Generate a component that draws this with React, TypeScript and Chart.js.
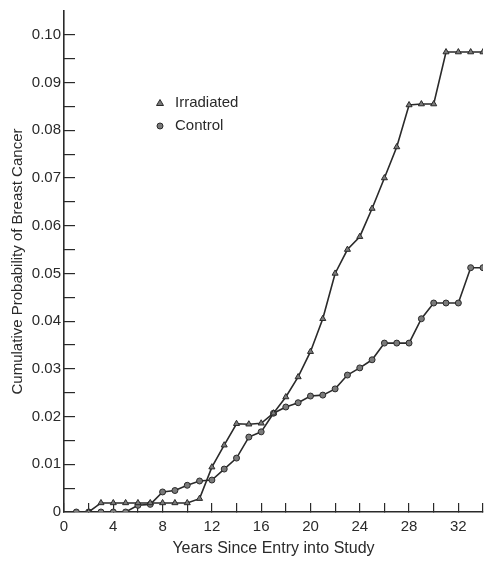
import React, { useEffect, useRef } from 'react';
import { Chart, registerables } from 'chart.js';

Chart.register(...registerables);

// ---- data ----
const years = [1, 2, 3, 4, 5, 6, 7, 8, 9, 10, 11, 12, 13, 14, 15, 16, 17, 18, 19, 20, 21, 22, 23, 24, 25, 26, 27, 28, 29, 30, 31, 32, 33, 34];
const irradiated: (number | null)[] = [
  null, 0, 0.0019, 0.0019, 0.0019, 0.0019, 0.0019, 0.0019, 0.0019, 0.0019,
  0.0028, 0.0094, 0.014, 0.0185, 0.0184, 0.0186, 0.0207, 0.0241, 0.0283, 0.0336,
  0.0405, 0.05, 0.055, 0.0577, 0.0636, 0.07, 0.0765, 0.0853, 0.0855, 0.0855,
  0.0964, 0.0964, 0.0964, 0.0964,
];
const control: (number | null)[] = [
  0, 0, 0, 0, 0, 0.0014, 0.0016, 0.0042, 0.0045, 0.0056,
  0.0065, 0.0067, 0.009, 0.0113, 0.0157, 0.0168, 0.0207, 0.022, 0.0229, 0.0243,
  0.0245, 0.0258, 0.0287, 0.0302, 0.0319, 0.0354, 0.0354, 0.0354, 0.0405, 0.0438,
  0.0438, 0.0438, 0.0512, 0.0512,
];
const seriesLabels = ['Irradiated', 'Control'];
const xLabelValues = [0, 4, 8, 12, 16, 20, 24, 28, 32];
const yTickValues = [0, 0.01, 0.02, 0.03, 0.04, 0.05, 0.06, 0.07, 0.08, 0.09, 0.1];
const yTickLabels = ['0', '0.01', '0.02', '0.03', '0.04', '0.05', '0.06', '0.07', '0.08', '0.09', '0.10'];
const xTitle = 'Years Since Entry into Study';
const yTitle = 'Cumulative Probability of Breast Cancer';

const FONT = '"Liberation Sans", Arial, sans-serif';
const INK = '#2a2a2a';
const MARK_FILL = '#7a7a7a';

const legendPlugin = {
  id: 'innerLegend',
  afterDraw(chart: any) {
    const { ctx, chartArea } = chart;
    const rows = [
      { label: seriesLabels[0], style: 'triangle', dy: 92 },
      { label: seriesLabels[1], style: 'circle', dy: 115 },
    ];
    ctx.save();
    ctx.font = `15px ${FONT}`;
    ctx.textBaseline = 'middle';
    ctx.textAlign = 'left';
    rows.forEach((r) => {
      const mx = chartArea.left + 96;
      const my = chartArea.top + r.dy;
      ctx.fillStyle = MARK_FILL;
      ctx.strokeStyle = INK;
      ctx.lineWidth = 1;
      ctx.beginPath();
      if (r.style === 'triangle') {
        ctx.moveTo(mx, my - 3.5);
        ctx.lineTo(mx + 3.5, my + 2.5);
        ctx.lineTo(mx - 3.5, my + 2.5);
        ctx.closePath();
      } else {
        ctx.arc(mx, my, 3, 0, Math.PI * 2);
      }
      ctx.fill();
      ctx.stroke();
      ctx.fillStyle = INK;
      ctx.fillText(r.label, chartArea.left + 111, my);
    });
    ctx.restore();
  },
};

export default function App() {
  const ref = useRef<HTMLCanvasElement | null>(null);
  useEffect(() => {
    if (!ref.current) return;
    const chart = new Chart(ref.current, {
      type: 'line',
      data: {
        datasets: [
          {
            label: seriesLabels[0],
            data: years.map((x, i) => ({ x, y: irradiated[i] })),
            borderColor: INK,
            borderWidth: 1.6,
            pointStyle: 'triangle',
            pointRadius: 3.5,
            pointBackgroundColor: MARK_FILL,
            pointBorderColor: INK,
            pointBorderWidth: 1,
            spanGaps: false,
            tension: 0,
          },
          {
            label: seriesLabels[1],
            data: years.map((x, i) => ({ x, y: control[i] })),
            borderColor: INK,
            borderWidth: 1.6,
            pointStyle: 'circle',
            pointRadius: 3,
            pointBackgroundColor: MARK_FILL,
            pointBorderColor: INK,
            pointBorderWidth: 1,
            tension: 0,
          },
        ],
      },
      options: {
        animation: false,
        responsive: false,
        maintainAspectRatio: false,
        layout: { padding: { top: 11, right: 1, left: 0, bottom: 0 } },
        plugins: {
          legend: { display: false },
          tooltip: { enabled: false },
        },
        scales: {
          x: {
            type: 'linear',
            min: 0,
            max: 34,
            afterFit: (s: any) => {
              s.height = 50;
              s.paddingLeft = 0;
              s.paddingRight = 0;
            },
            ticks: {
              stepSize: 2,
              autoSkip: false,
              maxRotation: 0,
              padding: 15,
              color: INK,
              font: { family: FONT, size: 15 },
              callback: (v: any) => (xLabelValues.includes(Number(v)) ? String(v) : ''),
            },
            grid: { drawOnChartArea: false, drawTicks: true, tickLength: -9, color: INK, lineWidth: 1.2 },
            border: { display: true, color: INK, width: 1.6 },
            title: {
              display: true,
              text: xTitle,
              color: INK,
              font: { family: FONT, size: 16 },
              padding: { top: 0, bottom: 4 },
            },
          },
          y: {
            type: 'linear',
            min: 0,
            max: 0.105,
            afterFit: (s: any) => {
              s.width = 64;
              s.paddingTop = 0;
              s.paddingBottom = 0;
            },
            afterBuildTicks: (s: any) => {
              s.ticks = s.ticks.filter((t: any) => t.value <= 0.1001);
            },
            ticks: {
              stepSize: 0.005,
              autoSkip: false,
              padding: 14,
              color: INK,
              font: { family: FONT, size: 15 },
              callback: (v: any) => {
                const idx = yTickValues.findIndex((t) => Math.abs(t - Number(v)) < 1e-6);
                return idx >= 0 ? yTickLabels[idx] : '';
              },
            },
            grid: { drawOnChartArea: false, drawTicks: true, tickLength: -11, color: INK, lineWidth: 1.2 },
            border: { display: true, color: INK, width: 1.6 },
            title: {
              display: true,
              text: yTitle,
              color: INK,
              font: { family: FONT, size: 15 },
              padding: { top: 9, bottom: 0 },
            },
          },
        },
      },
      plugins: [legendPlugin],
    });
    return () => chart.destroy();
  }, []);
  return (
    <div style={{ position: 'absolute', left: 0, top: 0, width: 488, height: 562, background: '#fff' }}>
      <canvas ref={ref} width={488} height={562} style={{ display: 'block' }} />
    </div>
  );
}
